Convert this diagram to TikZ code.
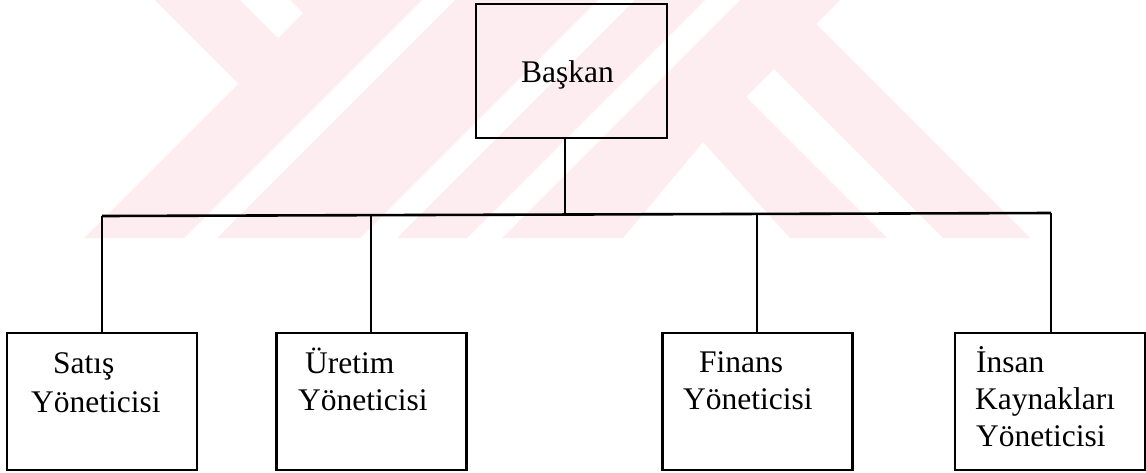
\documentclass[tikz,border=0pt]{standalone}
\usepackage{fontspec}
\setmainfont{Liberation Serif}
\usetikzlibrary{calc}
\definecolor{wmpink}{RGB}{253,237,240}
\begin{document}
\begin{tikzpicture}[x=1pt,y=-1pt,
  orgbox/.style={draw=black, line width=2.2pt, rectangle, inner sep=0pt,
                 minimum width=190pt, minimum height=137pt},
  wire/.style={draw=black, line width=1.8pt},
  busline/.style={draw=black, line width=2.6pt},
  lbl/.style={inner sep=0pt, anchor=base west, font=\fontsize{31.5}{37}\selectfont}]
\useasboundingbox (0,0) rectangle (1146,472);
\fill[white] (0,0) rectangle (1146,472);

% pale background emblem, cut off along its lower edge
\begin{scope}
  \clip (0,0) rectangle (1146,238);
  \fill[wmpink] (155,0) -- (240,0) -- (278,38) -- (303,13) -- (290,0) -- (422,0)
        -- (184,238) -- (84,238) -- (238.5,83.5) -- cycle;
  \fill[wmpink] (455,0) -- (598,0) -- (360,238) -- (217,238) -- cycle;
  \fill[wmpink] (635,0) -- (705,0) -- (467,238) -- (397,238) -- cycle;
  \fill[wmpink] (740,0) -- (840,0) -- (816,24) -- (1030,238) -- (943,238)
        -- (774,69) -- (746,97) -- (887,238) -- (790,238) -- (703,142)
        -- (623,238) -- (502,238) -- cycle;
\end{scope}

% boxes
\node[orgbox, minimum width=191pt, minimum height=134pt] (baskan) at (571.5,71) {};
\node[orgbox] (satis)  at (102,401.5) {};
\node[orgbox] (uretim) at (371.5,401.5) {};
\node[orgbox] (finans) at (757.5,401.5) {};
\node[orgbox] (insan)  at (1050,401.5) {};

% labels
\node[lbl] (tBaskan) at (521,82) {Başkan};
\node[lbl] (tSat1) at (53,373) {Satış};
\node[lbl] (tSat2) at (31,412) {Yöneticisi};
\node[lbl] (tUre1) at (305,373) {Üretim};
\node[lbl] (tUre2) at (298,410) {Yöneticisi};
\node[lbl] (tFin1) at (699,372) {Finans};
\node[lbl] (tFin2) at (683,409) {Yöneticisi};
\node[lbl] (tIns1) at (976,372) {İnsan};
\node[lbl] (tIns2) at (975,409) {Kaynakları};
\node[lbl] (tIns3) at (976,446) {Yöneticisi};

% connectors
\coordinate (busL) at (102,216);
\coordinate (busR) at (1051,213);
\coordinate (stemJ) at ($(busL)!0.4879!(busR)$);
\coordinate (dropU) at ($(busL)!0.2835!(busR)$);
\coordinate (dropF) at ($(busL)!0.6902!(busR)$);
\draw[busline] (busL) -- (busR);
\draw[wire] (stemJ) -- (stemJ |- baskan.south);
\draw[wire] (busL) -- (busL |- satis.north);
\draw[wire] (dropU) -- (dropU |- uretim.north);
\draw[wire] (dropF) -- (dropF |- finans.north);
\draw[wire] (busR) -- (busR |- insan.north);
\end{tikzpicture}
\end{document}
